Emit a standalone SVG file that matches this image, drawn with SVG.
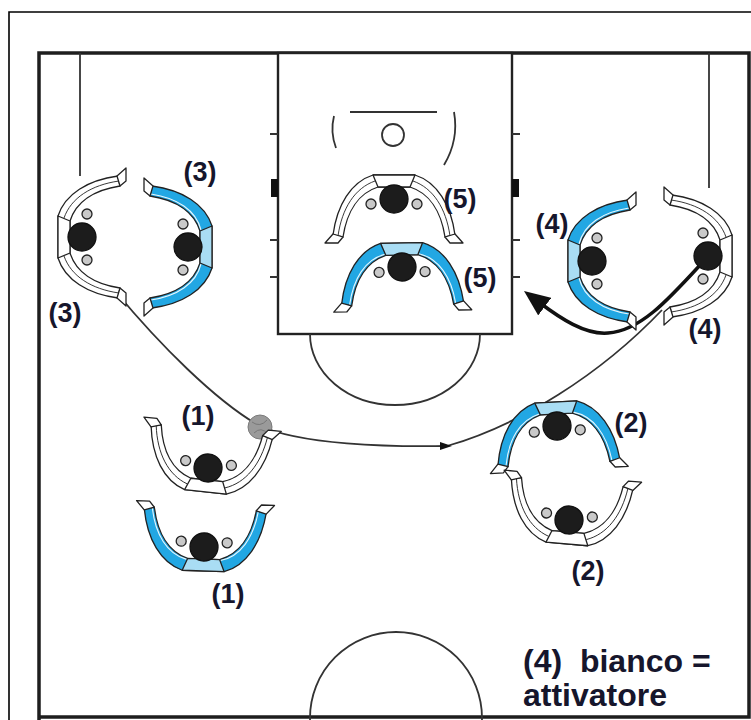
<svg xmlns="http://www.w3.org/2000/svg" xmlns:xlink="http://www.w3.org/1999/xlink" width="751" height="720" viewBox="0 0 751 720">
  <style>
    .frame { stroke:#000; stroke-width:1.6; fill:none; }
    .court { stroke:#1e1e1e; stroke-width:3.5; fill:none; }
    .key { stroke:#222; stroke-width:2.4; fill:#fff; }
    .line { stroke:#333; stroke-width:1.8; fill:none; }
    .fig { stroke:#222; stroke-width:1.3; stroke-linejoin:round; }
    .lbl { font-family:"Liberation Sans", Arial, sans-serif; font-weight:bold; font-size:27px; fill:#16162c; text-anchor:middle; }
    .legend { font-family:"Liberation Sans", Arial, sans-serif; font-weight:bold; font-size:32px; fill:#16162c; }
  </style>
  <defs>
    <!-- player seen from above, arms raised, opening downwards; head at origin -->
    <g id="figW" class="fig">
      <path fill="#fff" d="M-61,36 C-57,6 -43,-17 -21,-24 L21,-24 C43,-17 57,6 61,36 L51,38 C47,12 35,-6 16,-12 L-16,-12 C-35,-6 -47,12 -51,38 Z"/>
      <path fill="none" stroke-width="0.9" d="M-56,37 C-52,9 -39,-11 -19,-18 M19,-18 C39,-11 52,9 56,37"/>
      <path fill="#fff" d="M-21,-24 L21,-24 L16,-12 L-16,-12 Z"/>
      <path fill="#fff" d="M-61,35 L-69,44 L-56,44 L-51,38 Z M61,35 L69,44 L56,44 L51,38 Z"/>
      <circle cx="-23" cy="5" r="5" fill="#c9c9c9"/>
      <circle cx="23" cy="5" r="5" fill="#c9c9c9"/>
      <circle cx="0" cy="0" r="14" fill="#1c1c1c" stroke="#111"/>
    </g>
    <g id="figB" class="fig">
      <path fill="#22a7e3" d="M-61,36 C-57,6 -43,-17 -21,-24 L21,-24 C43,-17 57,6 61,36 L51,38 C47,12 35,-6 16,-12 L-16,-12 C-35,-6 -47,12 -51,38 Z"/>
      <path fill="none" stroke="#e8f6fc" stroke-width="1.1" d="M-53,37 C-49,11 -37,-8 -17,-13 M17,-13 C37,-8 49,11 53,37"/>
      <path fill="#a9ddf4" d="M-21,-24 L21,-24 L16,-12 L-16,-12 Z"/>
      <path fill="#fff" d="M-61,35 L-69,44 L-56,44 L-51,38 Z M61,35 L69,44 L56,44 L51,38 Z"/>
      <circle cx="-23" cy="5" r="5" fill="#c9c9c9"/>
      <circle cx="23" cy="5" r="5" fill="#c9c9c9"/>
      <circle cx="0" cy="0" r="14" fill="#1c1c1c" stroke="#111"/>
    </g>
    <marker id="head" markerUnits="userSpaceOnUse" markerWidth="26" markerHeight="22" viewBox="0 0 26 22" refX="6" refY="11" orient="auto">
      <path d="M0,0 L26,11 L0,22 Z" fill="#111"/>
    </marker>
  </defs>

  <rect width="751" height="720" fill="#fff"/>

  <!-- outer frame -->
  <path class="frame" d="M9,720 V12 H751"/>

  <!-- half court -->
  <g id="court">
    <path class="court" d="M39,720 V53 H749 V717 H39"/>
    <path class="line" d="M80,53 V176 M709,53 V188"/>
    <rect class="key" x="278" y="53" width="234" height="281"/>
    <path class="line" stroke-width="2" d="M270,134 H278 M270,240 H278 M270,277 H278 M512,134 H520 M512,240 H520 M512,277 H520"/>
    <rect x="271" y="179" width="7" height="18" fill="#111"/>
    <rect x="512" y="179" width="7" height="18" fill="#111"/>
    <path class="line" stroke-width="2" d="M310,334 A85,71 0 0 0 480,334"/>
    <path class="line" stroke-width="2" d="M350,112 H437"/>
    <circle cx="393" cy="135" r="11" class="line" stroke-width="2"/>
    <path class="line" stroke-width="2" d="M334,116 Q330,132 336,148 M454,112 Q459,140 444,165"/>
    <circle cx="396" cy="718" r="86" class="line" stroke-width="2"/>
  </g>

  <!-- connectors -->
  <g id="connectors">
    <path class="line" d="M116,292 C160,345 215,400 258,425 C300,445 390,447 447,446 C520,425 600,375 662,310"/>
    <path d="M440,442 L452,446 L440,450 Z" fill="#111"/>
    <path d="M701,264 C668,300 640,331 608,333 C585,335 560,318 540,303" fill="none" stroke="#111" stroke-width="3.5" marker-end="url(#head)"/>
  </g>

  <!-- ball -->
  <g id="ball">
    <circle cx="260" cy="427" r="12" fill="#9a9a9a" stroke="#7a7a7a" stroke-width="1"/>
    <path d="M252,422 Q260,428 267,420 M254,433 Q261,426 268,434" fill="none" stroke="#777" stroke-width="1"/>
  </g>

  <!-- players -->
  <g id="p3w">
    <use href="#figW" xlink:href="#figW" transform="translate(82,237) rotate(-90)"/>
    <text class="lbl" x="65" y="322">(3)</text>
  </g>
  <g id="p3b">
    <use href="#figB" xlink:href="#figB" transform="translate(188,247) rotate(90)"/>
    <text class="lbl" x="200" y="181">(3)</text>
  </g>
  <g id="p5w">
    <use href="#figW" xlink:href="#figW" transform="translate(394,199)"/>
    <text class="lbl" x="460" y="208">(5)</text>
  </g>
  <g id="p5b">
    <use href="#figB" xlink:href="#figB" transform="translate(402,267) rotate(-1)"/>
    <text class="lbl" x="480" y="287">(5)</text>
  </g>
  <g id="p4b">
    <use href="#figB" xlink:href="#figB" transform="translate(592,261) rotate(-90)"/>
    <text class="lbl" x="552" y="233">(4)</text>
  </g>
  <g id="p4w">
    <use href="#figW" xlink:href="#figW" transform="translate(708,256) rotate(90)"/>
    <text class="lbl" x="705" y="338">(4)</text>
  </g>
  <g id="p1w">
    <use href="#figW" xlink:href="#figW" transform="translate(208,468) rotate(186)"/>
    <text class="lbl" x="198" y="425">(1)</text>
  </g>
  <g id="p1b">
    <use href="#figB" xlink:href="#figB" transform="translate(204,547) rotate(182)"/>
    <text class="lbl" x="228" y="603">(1)</text>
  </g>
  <g id="p2b">
    <use href="#figB" xlink:href="#figB" transform="translate(557,426) rotate(-3)"/>
    <text class="lbl" x="631" y="432">(2)</text>
  </g>
  <g id="p2w">
    <use href="#figW" xlink:href="#figW" transform="translate(569,520) rotate(185)"/>
    <text class="lbl" x="588" y="580">(2)</text>
  </g>

  <!-- legend -->
  <g id="legend">
    <text class="legend" x="523" y="672" xml:space="preserve">(4)  bianco =</text>
    <text class="legend" x="523" y="706">attivatore</text>
  </g>
</svg>
